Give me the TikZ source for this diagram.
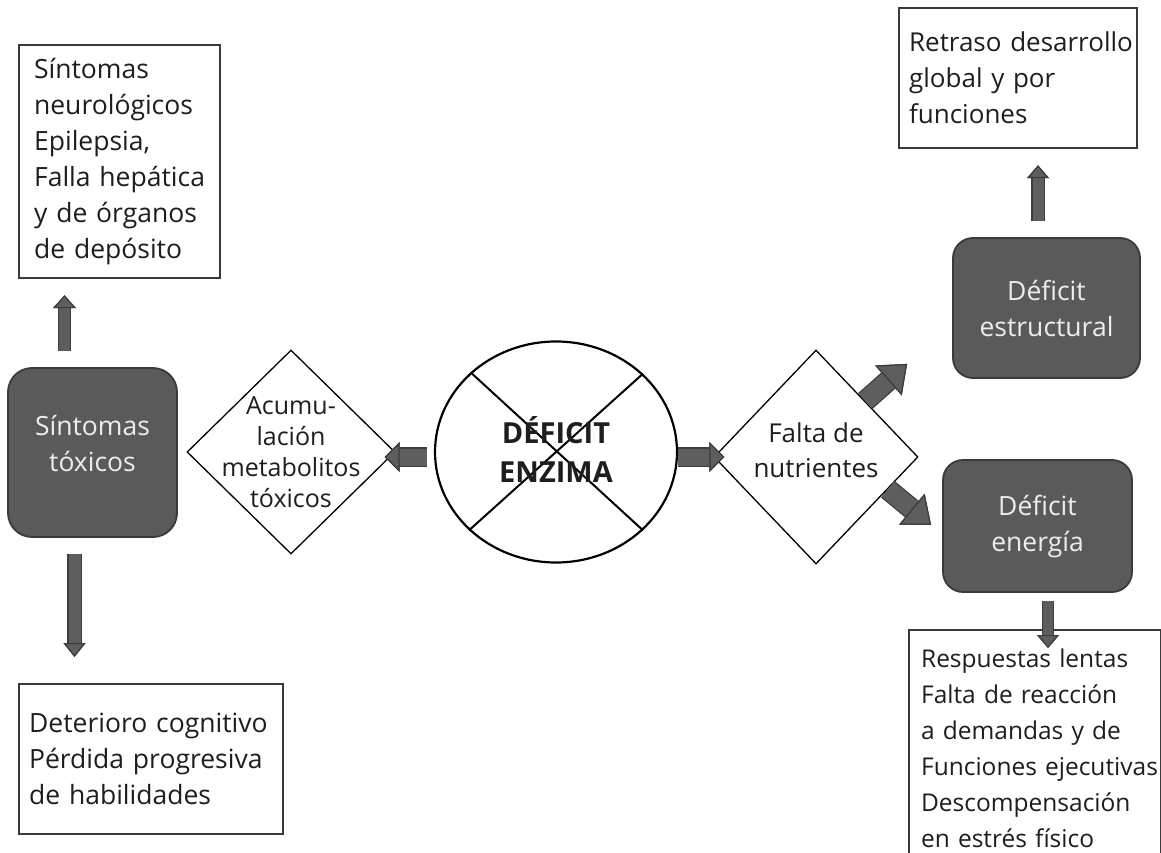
\documentclass[tikz,border=0pt]{standalone}
\usepackage{fontspec}
\setmainfont{Open Sans}
\usetikzlibrary{arrows.meta,shapes.geometric,calc}

\definecolor{ink}{HTML}{1E1E1E}
\definecolor{boxline}{HTML}{3A3A3A}
\definecolor{boxgray}{HTML}{5A5A5A}
\definecolor{grayedge}{HTML}{3A3A3A}
\definecolor{boxtext}{HTML}{EDEDED}
\definecolor{arrowgray}{HTML}{5E5E5E}
\definecolor{arrowedge}{HTML}{3C3C3C}

\newcommand\boxtextfont{\fontsize{26.5}{36}\selectfont}
\newcommand\resptextfont{\fontsize{24.5}{36}\selectfont}
\newcommand\acumfont{\fontsize{25}{31}\selectfont}
\newcommand\faltafont{\fontsize{26}{35}\selectfont}
\newcommand\enzfont{\fontsize{29}{39}\selectfont\bfseries}

% never split words across lines
\hyphenpenalty=10000
\exhyphenpenalty=10000

\tikzset{
  whitebox/.style={draw=boxline, line width=2.2pt, fill=white, text=ink,
    align=left, anchor=north west, inner ysep=0pt, font=\boxtextfont},
  graybox/.style={draw=grayedge, line width=1.8pt, fill=boxgray, text=boxtext,
    rounded corners=24pt, align=center, inner sep=0pt, font=\boxtextfont},
  gate/.style={diamond, draw=black, line width=1.3pt, fill=white, inner sep=0pt},
  % thick block arrow: shaft, outlined shaft, head width, head length
  fat/.style n args={4}{
    draw=arrowgray, line width=#1,
    -{Triangle[width=#3, length=#4, line width=1.2pt, fill=arrowgray, color=arrowedge]},
    preaction={draw=arrowedge, line width=#2,
      -{Triangle[width=#3, length=#4, line width=1.2pt, fill=arrowedge, color=arrowedge]}}
  }
}

\begin{document}
\begin{tikzpicture}[x=1pt, y=-1pt]
\useasboundingbox (0,0) rectangle (1161,853);
\clip (0,0) rectangle (1161,853);

% text boxes
\node[whitebox, inner xsep=15pt, text width=171pt, minimum height=233pt] (neuro) at (18,44)
  {Síntomas\\neurológicos\\Epilepsia,\\Falla~hepática\\y~de~órganos\\de~depósito};
\node[whitebox, inner xsep=10pt, text width=244pt, minimum height=150pt] (cogn) at (18,683)
  {Deterioro~cognitivo\\Pérdida~progresiva\\de~habilidades};
\node[whitebox, inner xsep=10pt, text width=218pt, minimum height=140pt, font=\fontsize{26}{36}\selectfont] (retraso) at (898,7)
  {Retraso~desarrollo\\global~y~por\\funciones};
\node[whitebox, inner xsep=12pt, text width=228pt, minimum height=236pt, font=\resptextfont] (resp) at (908,629)
  {Respuestas~lentas\\Falta~de~reacción\\a~demandas~y~de\\Funciones~ejecutivas\\Descompensación\\en~estrés~físico};

% dark boxes
\node[graybox, minimum width=169pt, minimum height=169pt, text depth=18pt] (tox) at (92.5,452.5) {Síntomas\\tóxicos};
\node[graybox, minimum width=187pt, minimum height=140pt, rounded corners=20pt] (estr) at (1046.5,308) {Déficit\\estructural};
\node[graybox, minimum width=189pt, minimum height=132pt, rounded corners=20pt, text depth=6pt] (energ) at (1037.5,526) {Déficit\\energía};

% decision diamonds
\node[gate, minimum width=208pt, minimum height=204pt] (acum) at (291,452) {};
\node[font=\acumfont, text=ink, align=center, inner sep=0pt] (acumtxt) at (acum) {Acumu-\\lación\\metabolitos\\tóxicos};
\node[gate, minimum width=204pt, minimum height=214pt] (falta) at (816,457) {};
\node[font=\faltafont, text=ink, align=center, inner sep=0pt] (faltatxt) at ($(falta)+(0,-7)$) {Falta de\\nutrientes};

% crossed-out enzyme
\node[ellipse, draw=black, line width=2.2pt, fill=white, minimum width=242pt, minimum height=221pt, inner sep=0pt] (enz) at (556,452) {};
\draw[line width=2pt] (enz.137.5) -- (enz.-42.5);
\draw[line width=2pt] (enz.42.5) -- (enz.222.5);
\node[font=\enzfont, text=ink, align=center, inner sep=0pt] (enztxt) at ($(enz)+(0,-3)$) {DÉFICIT\\ENZIMA};

% connectors
\draw[fat={11pt}{13.4pt}{23pt}{13pt}] ($(tox.north)+(-28,-16)$) -- ($(tox.north |- neuro.south)+(-28,16)$);
\draw[fat={12pt}{14.4pt}{22pt}{14pt}] ($(tox.south)+(-18,16)$) -- ($(tox.south |- cogn.north)+(-18,-26)$);
\draw[fat={17pt}{19.4pt}{30pt}{15pt}] ($(enz.west)+(-7,5)$) -- ($(acum.east)+(-11,5)$);
\draw[fat={17pt}{19.4pt}{30pt}{15pt}] ($(enz.east)+(0,5)$) -- ($(falta.west)+(11,0)$);
\draw[fat={19pt}{21.4pt}{40pt}{25pt}] ($(falta.north)!0.48!(falta.east)$) -- ($(estr.south west)+(-45,-15)$);
\draw[fat={19pt}{21.4pt}{40pt}{25pt}] ($(falta.east)!0.3!(falta.south)$) -- ($(energ.west)+(-11,-1)$);
\draw[fat={10pt}{12.4pt}{22pt}{13pt}] ($(energ.south)+(10.5,8)$) -- ($(energ.south |- resp.north)+(10.5,19)$);
\draw[fat={11pt}{13.4pt}{22pt}{13pt}] ($(estr.north)+(-8.5,-16)$) -- ($(estr.north |- retraso.south)+(-8.5,16)$);
\end{tikzpicture}
\end{document}
